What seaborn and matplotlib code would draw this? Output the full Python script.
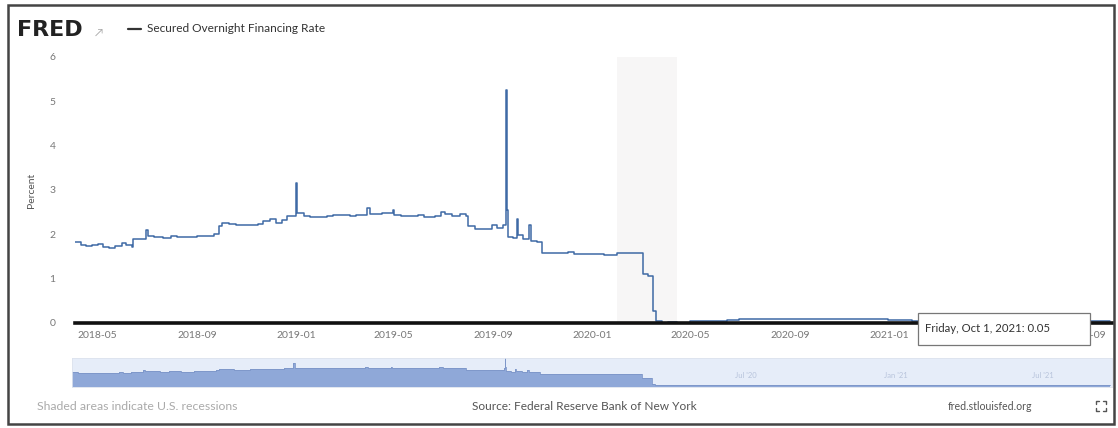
import pandas as pd
import seaborn as sns
import matplotlib.pyplot as plt
import matplotlib.dates as mdates
from matplotlib.patches import Rectangle

# SOFR values (percent), step series
dates = [
    "2018-04-03", "2018-04-10", "2018-04-17", "2018-04-24", "2018-05-01", "2018-05-08",
    "2018-05-15", "2018-05-22", "2018-05-31", "2018-06-05", "2018-06-12", "2018-06-14",
    "2018-06-22", "2018-06-29", "2018-07-02", "2018-07-10", "2018-07-20", "2018-07-31",
    "2018-08-07", "2018-08-15", "2018-08-23", "2018-08-31", "2018-09-07", "2018-09-14",
    "2018-09-21", "2018-09-27", "2018-10-01", "2018-10-10", "2018-10-19", "2018-10-31",
    "2018-11-08", "2018-11-15", "2018-11-21", "2018-11-30", "2018-12-07", "2018-12-14",
    "2018-12-20", "2018-12-31",
    "2019-01-02", "2019-01-10", "2019-01-18", "2019-01-31", "2019-02-08", "2019-02-15",
    "2019-02-28", "2019-03-08", "2019-03-15", "2019-03-22", "2019-03-29", "2019-04-02",
    "2019-04-10", "2019-04-17", "2019-04-30", "2019-05-02", "2019-05-10", "2019-05-20",
    "2019-05-31", "2019-06-07", "2019-06-14", "2019-06-21", "2019-06-28", "2019-07-03",
    "2019-07-12", "2019-07-22", "2019-07-29", "2019-08-01", "2019-08-09", "2019-08-19",
    "2019-08-30", "2019-09-05", "2019-09-13", "2019-09-16", "2019-09-17", "2019-09-18",
    "2019-09-19", "2019-09-25", "2019-09-30", "2019-10-01", "2019-10-08", "2019-10-15",
    "2019-10-17", "2019-10-25", "2019-10-31", "2019-11-08", "2019-11-15", "2019-11-25",
    "2019-12-02", "2019-12-10", "2019-12-18", "2019-12-31",
    "2020-01-07", "2020-01-15", "2020-01-24", "2020-01-31", "2020-02-07", "2020-02-14",
    "2020-02-21", "2020-02-28", "2020-03-04", "2020-03-10", "2020-03-16", "2020-03-20",
    "2020-03-27", "2020-04-03", "2020-04-15", "2020-04-30", "2020-05-15", "2020-05-29",
    "2020-06-15", "2020-06-30", "2020-07-15", "2020-07-31", "2020-08-14", "2020-08-31",
    "2020-09-15", "2020-09-30", "2020-10-15", "2020-10-30", "2020-11-13", "2020-11-30",
    "2020-12-15", "2020-12-31",
    "2021-01-15", "2021-01-29", "2021-02-12", "2021-02-26", "2021-03-15", "2021-03-31",
    "2021-04-15", "2021-04-30", "2021-05-14", "2021-05-28", "2021-06-16", "2021-06-17",
    "2021-06-30", "2021-07-15", "2021-07-30", "2021-08-13", "2021-08-31", "2021-09-15",
    "2021-09-30", "2021-10-01",
]
sofr = [
    1.83, 1.75, 1.74, 1.75, 1.78, 1.72,
    1.70, 1.74, 1.81, 1.75, 1.72, 1.90,
    1.89, 2.10, 1.96, 1.94, 1.91, 1.96,
    1.94, 1.93, 1.93, 1.97, 1.96, 1.96,
    2.00, 2.18, 2.25, 2.23, 2.21, 2.21,
    2.22, 2.24, 2.29, 2.35, 2.25, 2.33,
    2.42, 3.15,
    2.48, 2.42, 2.40, 2.40, 2.41, 2.43,
    2.44, 2.42, 2.43, 2.44, 2.60, 2.45,
    2.46, 2.47, 2.55, 2.44, 2.42, 2.41,
    2.43, 2.39, 2.38, 2.42, 2.50, 2.46,
    2.42, 2.45, 2.41, 2.19, 2.12, 2.11,
    2.20, 2.14, 2.20, 2.43, 5.25, 2.55,
    1.95, 1.92, 2.35, 1.99, 1.90, 2.20,
    1.85, 1.82, 1.58, 1.57, 1.57, 1.57,
    1.60, 1.55, 1.55, 1.55,
    1.56, 1.54, 1.53, 1.58, 1.59, 1.59,
    1.58, 1.59, 1.10, 1.05, 0.26, 0.05,
    0.01, 0.02, 0.01, 0.04, 0.05, 0.05,
    0.07, 0.10, 0.10, 0.10, 0.09, 0.09,
    0.09, 0.09, 0.08, 0.09, 0.09, 0.09,
    0.08, 0.07,
    0.06, 0.05, 0.03, 0.02, 0.01, 0.01,
    0.01, 0.01, 0.01, 0.01, 0.01, 0.05,
    0.05, 0.05, 0.05, 0.05, 0.05, 0.05,
    0.05, 0.05,
]
recession = ("2020-02-01", "2020-04-15")
y_ticks = [0, 1, 2, 3, 4, 5, 6]
x_ticks = ["2018-05-01", "2018-09-01", "2019-01-01", "2019-05-01", "2019-09-01", "2020-01-01",
           "2020-05-01", "2020-09-01", "2021-01-01", "2021-05-01", "2021-09-01"]
nav_labels = ["Jul '20", "Jan '21", "Jul '21"]
nav_label_dates = ["2020-07-10", "2021-01-10", "2021-07-10"]

df = pd.DataFrame({"date": pd.to_datetime(dates), "sofr": sofr})

sns.set_style("white")
plt.rcParams["font.family"] = ["Lato", "DejaVu Sans"]

fig = plt.figure(figsize=(11.18, 4.28), dpi=100)
W, H = 1118, 428

def fx(px):
    return px / W

def fy(py):
    return 1 - py / H

line_col = "#3f6aa5"
xmin, xmax = pd.Timestamp("2018-04-03"), pd.Timestamp("2021-10-03")

# main chart
ax = fig.add_axes([fx(75), fy(323), fx(1112) - fx(75), fy(57) - fy(323)])
ax.axvspan(pd.Timestamp(recession[0]), pd.Timestamp(recession[1]), color="#f7f6f6", lw=0, zorder=0)
sns.lineplot(data=df, x="date", y="sofr", ax=ax, color=line_col, lw=1.1,
             drawstyle="steps-post", legend=False)
ax.set_xlim(xmin, xmax)
ax.set_ylim(0, 6)
ax.set_yticks(y_ticks)
ax.set_yticklabels([str(t) for t in y_ticks])
ax.set_xticks(pd.to_datetime(x_ticks))
ax.xaxis.set_major_formatter(mdates.DateFormatter("%Y-%m"))
ax.tick_params(axis="both", labelsize=7.5, colors="#777777", length=0)
ax.tick_params(axis="y", pad=14)
ax.tick_params(axis="x", pad=6)
ax.set_xlabel("")
ax.set_ylabel("Percent", fontsize=7.5, color="#555555", labelpad=10)
for s in ["top", "right", "left"]:
    ax.spines[s].set_visible(False)
ax.spines["bottom"].set_color("#111111")
ax.spines["bottom"].set_linewidth(2.6)

# navigator
nav = fig.add_axes([fx(72), fy(387), fx(1112) - fx(72), fy(358) - fy(387)])
nav.set_facecolor("#e6edf9")
nav.fill_between(df["date"], df["sofr"], -0.2, step="post", color="#8fa8d8", lw=0)
sns.lineplot(data=df, x="date", y="sofr", ax=nav, color="#7d96c8", lw=0.6,
             drawstyle="steps-post", legend=False)
nav.set_xlim(xmin, xmax)
nav.set_ylim(-0.2, 3.8)
nav.set_xticks([])
nav.set_yticks([])
nav.set_xlabel("")
nav.set_ylabel("")
for d, lab in zip(nav_label_dates, nav_labels):
    nav.text(pd.Timestamp(d), 1.4, lab, fontsize=5.5, color="#b8c4dc", ha="center", va="center")
for s in nav.spines.values():
    s.set_color("#dde3ee")
    s.set_linewidth(0.6)

# header
fig.text(fx(17), fy(30), "FRED", fontsize=16, fontweight="bold", color="#222222", va="center",
         family=["DejaVu Sans"])
fig.text(fx(95), fy(32), "\u2197", fontsize=8, color="#aaaaaa", va="center")
fig.add_artist(plt.Line2D([fx(128), fx(141)], [fy(29), fy(29)], color="#333333", lw=1.6))
fig.text(fx(147), fy(29), "Secured Overnight Financing Rate", fontsize=8.6, color="#333333", va="center")

# tooltip
fig.add_artist(Rectangle((fx(918), fy(345)), fx(1090) - fx(918), fy(313) - fy(345),
                         transform=fig.transFigure, facecolor="white", edgecolor="#777777", lw=0.9))
fig.text(fx(925), fy(328), "Friday, Oct 1, 2021: 0.05", fontsize=8.2, color="#333333", va="center")

# footer
fig.text(fx(37), fy(406), "Shaded areas indicate U.S. recessions", fontsize=8.8, color="#aaaaaa", va="center")
fig.text(fx(584), fy(406), "Source: Federal Reserve Bank of New York", fontsize=8.6, color="#555555",
         va="center", ha="center")
fig.text(fx(948), fy(406), "fred.stlouisfed.org", fontsize=7.6, color="#555555", va="center")

# fullscreen icon: four small corner brackets
cx, cy, r, k = 1101, 406, 5, 3
for sx in (-1, 1):
    for sy in (-1, 1):
        x0, y0 = cx + sx * r, cy + sy * r
        fig.add_artist(plt.Line2D([fx(x0), fx(x0), fx(x0 - sx * k)],
                                  [fy(y0 - sy * k), fy(y0), fy(y0)], color="#555555", lw=1))

# outer frame
fig.add_artist(Rectangle((fx(8), fy(424)), fx(1114) - fx(8), fy(5) - fy(424),
                         transform=fig.transFigure, facecolor="none", edgecolor="#444444", lw=1.8))

fig.savefig("out.png", dpi=100)
